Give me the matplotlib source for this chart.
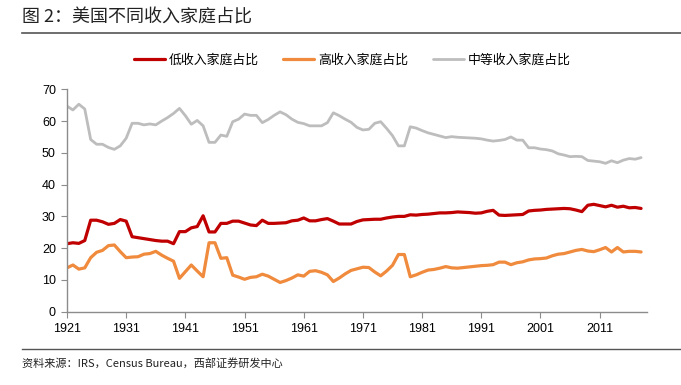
import matplotlib
matplotlib.use("Agg")
import matplotlib.pyplot as plt
from matplotlib.lines import Line2D

plt.rcParams['font.family'] = ['Liberation Sans', 'Noto Sans CJK SC', 'DejaVu Sans']

# years 1921-2018
years = list(range(1921, 2019))

# share of low-income households (%)
low_income = [
    21.4, 21.7, 21.5, 22.4, 28.8, 28.8, 28.3, 27.5, 27.8, 29.0,
    28.5, 23.6, 23.3, 23.0, 22.7, 22.4, 22.2, 22.2, 21.4, 25.2,
    25.2, 26.4, 26.8, 30.2, 25.1, 25.1, 27.8, 27.8, 28.5, 28.5,
    27.9, 27.3, 27.1, 28.8, 27.8, 27.8, 27.9, 28.0, 28.6, 28.8,
    29.5, 28.6, 28.6, 29.0, 29.3, 28.5, 27.6, 27.6, 27.6, 28.4,
    28.9, 29.0, 29.1, 29.1, 29.5, 29.8, 30.0, 30.0, 30.5, 30.4,
    30.6, 30.7, 30.9, 31.1, 31.1, 31.2, 31.4, 31.3, 31.2, 31.0,
    31.1, 31.6, 31.9, 30.4, 30.3, 30.4, 30.5, 30.6, 31.7, 31.9,
    32.0, 32.2, 32.3, 32.4, 32.5, 32.4, 32.0, 31.5, 33.5, 33.8,
    33.4, 33.0, 33.5, 32.9, 33.2, 32.7, 32.8, 32.5,
]

# share of high-income households (%)
high_income = [
    13.8, 14.7, 13.4, 13.8, 17.0, 18.7, 19.3, 20.8, 21.0, 18.9,
    17.0, 17.2, 17.3, 18.1, 18.3, 19.0, 17.8, 16.8, 15.9, 10.5,
    12.6, 14.7, 12.8, 11.0, 21.7, 21.7, 16.8, 17.0, 11.5, 10.9,
    10.2, 10.8, 11.0, 11.8, 11.2, 10.2, 9.2, 9.8, 10.6, 11.6,
    11.2, 12.7, 12.9, 12.4, 11.6, 9.5, 10.6, 11.9, 13.0, 13.5,
    14.0, 13.9, 12.5, 11.3, 12.8, 14.6, 18.0, 18.0, 11.0, 11.6,
    12.4, 13.1, 13.3, 13.7, 14.2, 13.8, 13.7, 13.9, 14.1, 14.3,
    14.5, 14.6, 14.8, 15.6, 15.6, 14.8, 15.4, 15.7, 16.3, 16.6,
    16.7, 16.9, 17.6, 18.1, 18.3, 18.8, 19.3, 19.6, 19.1, 18.9,
    19.5, 20.2, 18.8, 20.2, 18.8, 19.0, 19.0, 18.8,
]

# share of middle-income households (%)
mid_income = [
    64.7, 63.5, 65.3, 63.8, 54.2, 52.7, 52.7, 51.7, 51.1, 52.2,
    54.6, 59.3, 59.3, 58.8, 59.1, 58.8, 60.0, 61.1, 62.4, 64.0,
    61.7, 59.0, 60.2, 58.5, 53.3, 53.3, 55.6, 55.2, 59.8, 60.6,
    62.2, 61.8, 61.8, 59.5, 60.5, 61.8, 62.9, 62.0, 60.6, 59.6,
    59.2, 58.5, 58.5, 58.5, 59.5, 62.6, 61.7, 60.6, 59.6, 58.0,
    57.2, 57.4, 59.3, 59.8, 57.7, 55.4, 52.2, 52.2, 58.2, 57.8,
    57.0, 56.3, 55.8, 55.3, 54.8, 55.1, 54.9, 54.8, 54.7, 54.6,
    54.4, 54.0, 53.7, 53.9, 54.2, 55.0, 54.0, 54.0, 51.6, 51.6,
    51.2, 51.0, 50.6, 49.7, 49.3, 48.8, 48.9, 48.8, 47.6, 47.4,
    47.2, 46.7, 47.5, 46.9, 47.7, 48.2, 48.0, 48.5,
]

labels = ['低收入家庭占比', '高收入家庭占比', '中等收入家庭占比']
colors = ['#C00000', '#F08A3C', '#BDBDBD']
x_ticks = list(range(1921, 2012, 10))

fig = plt.figure(figsize=(6.81, 3.85), dpi=100)
ax = fig.add_axes([67 / 681, 1 - 311.7 / 385, 580 / 681, 222.4 / 385])

ax.plot(years, low_income, color=colors[0], lw=2.3, label=labels[0], solid_capstyle='round')
ax.plot(years, high_income, color=colors[1], lw=2.3, label=labels[1], solid_capstyle='round')
ax.plot(years, mid_income, color=colors[2], lw=2.0, label=labels[2], solid_capstyle='round')

ax.set_xlim(1921, 2019)
ax.set_ylim(0, 70)
ax.set_yticks(range(0, 71, 10))
ax.set_xticks(x_ticks)
ax.set_xticklabels([str(y) for y in x_ticks])

for side in ['top', 'right']:
    ax.spines[side].set_visible(False)
for side in ['left', 'bottom']:
    ax.spines[side].set_color('#8C8C8C')
    ax.spines[side].set_linewidth(1.0)
ax.tick_params(axis='both', colors='#8C8C8C', labelcolor='black', labelsize=9,
               length=4, width=0.8, direction='out')
ax.tick_params(axis='x', pad=4)
ax.tick_params(axis='y', pad=4)

# legend on top
fig.legend(loc='center', bbox_to_anchor=(0.517, 1 - 60 / 385), ncol=3, frameon=False,
           prop={'family': ['Noto Sans CJK SC'], 'size': 9.3},
           handlelength=2.4, handletextpad=0.3, columnspacing=1.9)

# title and rules
fig.text(22 / 681, 1 - 18 / 385, '图 2：美国不同收入家庭占比', fontsize=13,
         family=['Noto Sans CJK SC'], va='center', ha='left', color='#222222')
fig.add_artist(Line2D([22 / 681, 1], [1 - 33 / 385, 1 - 33 / 385], color='#555555', lw=1.2))
fig.add_artist(Line2D([22 / 681, 1], [1 - 349 / 385, 1 - 349 / 385], color='#555555', lw=1.0))
fig.text(22 / 681, 1 - 363 / 385, '资料来源：IRS，Census Bureau，西部证券研发中心', fontsize=8,
         family=['Noto Sans CJK SC', 'Liberation Sans'], va='center', ha='left', color='#222222')

fig.savefig('out.png', dpi=100)
